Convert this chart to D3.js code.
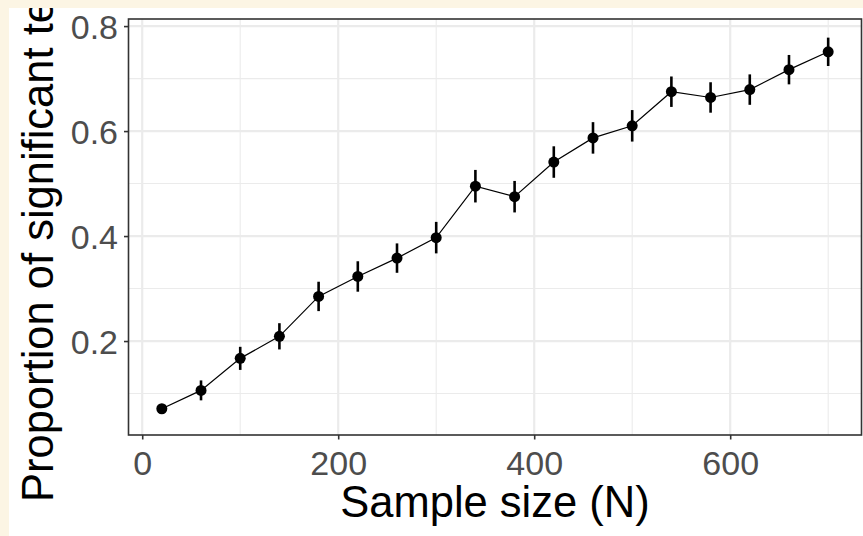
<!DOCTYPE html>
<html>
<head>
<meta charset="utf-8">
<script src="https://cdn.jsdelivr.net/npm/d3@7"></script>
<style>
  html, body { margin: 0; padding: 0; background: #FCF5E4; }
  svg { display: block; }
</style>
</head>
<body>
<svg id="chart" width="863" height="536"></svg>
<script>
// ---- data ----
const sampleSizes = [20, 60, 100, 140, 180, 220, 260, 300, 340, 380, 420, 460, 500, 540, 580, 620, 660, 700];
const proportions = [0.071, 0.106, 0.167, 0.209, 0.285, 0.323, 0.358, 0.397, 0.495, 0.475, 0.541, 0.587, 0.610, 0.675, 0.664, 0.679, 0.717, 0.751];
const lowerCI =     [0.062, 0.087, 0.145, 0.184, 0.257, 0.294, 0.330, 0.367, 0.464, 0.445, 0.511, 0.557, 0.580, 0.646, 0.635, 0.650, 0.689, 0.724];
const upperCI =     [0.080, 0.125, 0.189, 0.234, 0.313, 0.352, 0.386, 0.427, 0.526, 0.505, 0.571, 0.617, 0.640, 0.704, 0.693, 0.708, 0.745, 0.778];
const xTickValues = [0, 200, 400, 600];
const xMinorValues = [100, 300, 500, 700];
const yTickValues = [0.2, 0.4, 0.6, 0.8];
const yMinorValues = [0.1, 0.3, 0.5, 0.7];
const xTitle = "Sample size (N)";
const yTitle = "Proportion of significant tests";

const data = sampleSizes.map((n, i) => ({ n, p: proportions[i], lo: lowerCI[i], hi: upperCI[i] }));

const svg = d3.select("#chart");
const W = 863, H = 536;
const panel = { left: 128.5, right: 861.5, top: 19, bottom: 435 };

// white figure area
svg.append("defs").append("clipPath").attr("id", "figclip")
  .append("rect").attr("x", 9).attr("y", 8).attr("width", W - 9).attr("height", H - 8);
const fig = svg.append("g").attr("clip-path", "url(#figclip)");
fig.append("rect").attr("x", 9).attr("y", 8).attr("width", W - 9).attr("height", H - 8).attr("fill", "#ffffff");

const x = d3.scaleLinear().domain([-14, 734]).range([panel.left, panel.right]);
const y = d3.scaleLinear().domain([0.021, 0.8135]).range([panel.bottom, panel.top]);

// grid
const grid = fig.append("g");
grid.selectAll(".ymin").data(yMinorValues).join("line")
  .attr("x1", panel.left).attr("x2", panel.right)
  .attr("y1", d => y(d)).attr("y2", d => y(d))
  .attr("stroke", "#EBEBEB").attr("stroke-width", 1.1);
grid.selectAll(".xmin").data(xMinorValues).join("line")
  .attr("y1", panel.top).attr("y2", panel.bottom)
  .attr("x1", d => x(d)).attr("x2", d => x(d))
  .attr("stroke", "#EBEBEB").attr("stroke-width", 1.1);
grid.selectAll(".ymaj").data(yTickValues).join("line")
  .attr("x1", panel.left).attr("x2", panel.right)
  .attr("y1", d => y(d)).attr("y2", d => y(d))
  .attr("stroke", "#EBEBEB").attr("stroke-width", 2.2);
grid.selectAll(".xmaj").data(xTickValues).join("line")
  .attr("y1", panel.top).attr("y2", panel.bottom)
  .attr("x1", d => x(d)).attr("x2", d => x(d))
  .attr("stroke", "#EBEBEB").attr("stroke-width", 2.2);

// line
fig.append("path").datum(data)
  .attr("d", d3.line().x(d => x(d.n)).y(d => y(d.p)))
  .attr("fill", "none").attr("stroke", "#000").attr("stroke-width", 1.2);

// error bars
fig.selectAll(".err").data(data).join("line")
  .attr("x1", d => x(d.n)).attr("x2", d => x(d.n))
  .attr("y1", d => y(d.lo)).attr("y2", d => y(d.hi))
  .attr("stroke", "#000").attr("stroke-width", 2.6);

// points
fig.selectAll(".pt").data(data).join("circle")
  .attr("cx", d => x(d.n)).attr("cy", d => y(d.p)).attr("r", 5.5)
  .attr("fill", "#000");

// panel border
fig.append("rect")
  .attr("x", panel.left).attr("y", panel.top)
  .attr("width", panel.right - panel.left).attr("height", panel.bottom - panel.top)
  .attr("fill", "none").attr("stroke", "#333333").attr("stroke-width", 1.6);

// axes
const xAxis = fig.append("g").attr("transform", `translate(0,${panel.bottom})`)
  .call(d3.axisBottom(x).tickValues(xTickValues).tickSize(4.5).tickPadding(11).tickFormat(d3.format("d")));
const yAxis = fig.append("g").attr("transform", `translate(${panel.left},0)`)
  .call(d3.axisLeft(y).tickValues(yTickValues).tickSize(4.5).tickPadding(6).tickFormat(d3.format(".1f")));
[xAxis, yAxis].forEach(a => {
  a.select(".domain").remove();
  a.selectAll(".tick line").attr("stroke", "#333333").attr("stroke-width", 1.6);
  a.selectAll(".tick text").attr("fill", "#4D4D4D")
    .style("font-family", "Liberation Sans, Arial, sans-serif").style("font-size", "34px");
});
yAxis.selectAll(".tick text").attr("dy", "0.36em");

// titles
fig.append("text")
  .attr("x", (panel.left + panel.right) / 2).attr("y", 517)
  .attr("text-anchor", "middle")
  .style("font-family", "Liberation Sans, Arial, sans-serif").style("font-size", "43.5px")
  .attr("fill", "#000").text(xTitle);
fig.append("text")
  .attr("transform", "translate(53,502) rotate(-90)")
  .attr("text-anchor", "start")
  .style("font-family", "Liberation Sans, Arial, sans-serif").style("font-size", "43.5px")
  .attr("fill", "#000").text(yTitle);
</script>
</body>
</html>
